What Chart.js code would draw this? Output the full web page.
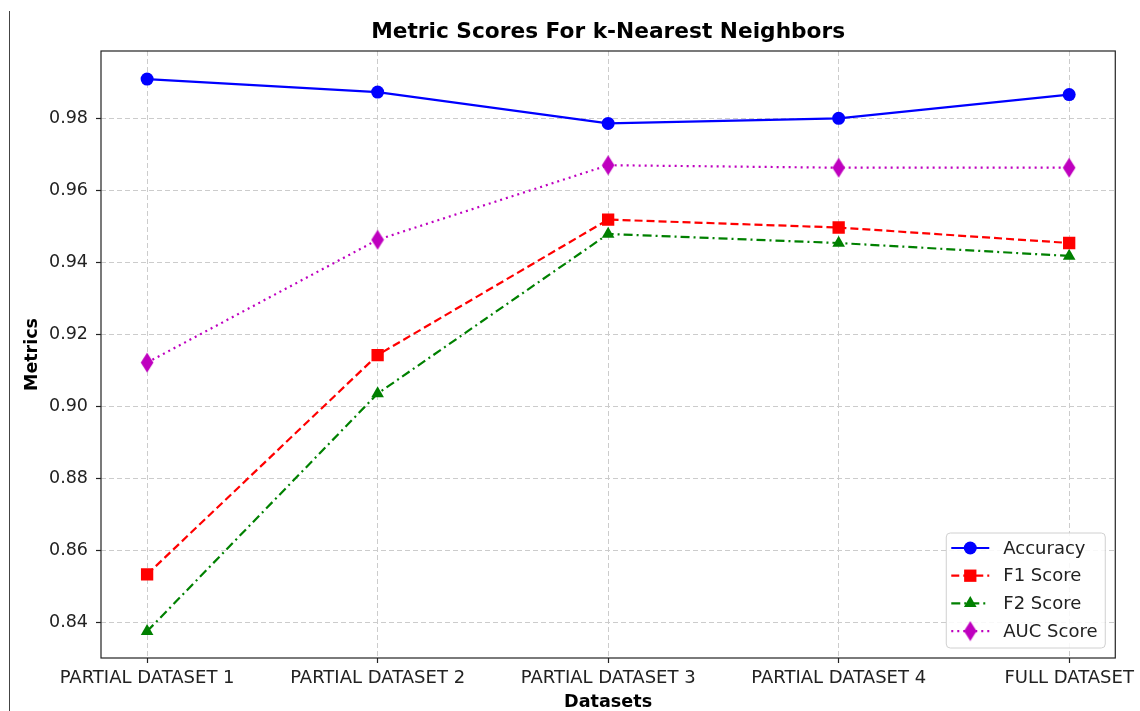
<!DOCTYPE html>
<html>
<head>
<meta charset="utf-8">
<script src="https://cdn.jsdelivr.net/npm/chart.js@4"></script>
<style>
  html, body { margin: 0; padding: 0; background: #fff; }
  #wrap { position: relative; width: 1140px; height: 711px; }
  #edge { position: absolute; left: 9px; top: 11px; width: 0; height: 700px; border-left: 1px solid #444; }
</style>
</head>
<body>
<div id="wrap">
  <canvas id="chart" width="1140" height="711"></canvas>
  <div id="edge"></div>
</div>
<script>
// Data
const categories = ['PARTIAL DATASET 1', 'PARTIAL DATASET 2', 'PARTIAL DATASET 3', 'PARTIAL DATASET 4', 'FULL DATASET'];
const accuracy = [0.9909, 0.9873, 0.9786, 0.9800, 0.9866];
const f1Score = [0.8534, 0.9143, 0.9519, 0.9497, 0.9454];
const f2Score = [0.8376, 0.9036, 0.9479, 0.9454, 0.9418];
const aucScore = [0.9122, 0.9463, 0.9670, 0.9663, 0.9663];
const yTicks = [0.84, 0.86, 0.88, 0.90, 0.92, 0.94, 0.96, 0.98];
const chartTitle = 'Metric Scores For k-Nearest Neighbors';

const FONT = 'DejaVu Sans';

// thin diamond marker (matplotlib 'd')
function thinDiamond(color) {
  const c = document.createElement('canvas');
  c.width = 14; c.height = 21;
  const g = c.getContext('2d');
  g.fillStyle = color;
  g.beginPath();
  g.moveTo(7, 0.5); g.lineTo(13.3, 10.5); g.lineTo(7, 20.5); g.lineTo(0.7, 10.5);
  g.closePath();
  g.fill();
  return c;
}

function toPoints(values) {
  return values.map((v, i) => ({ x: i, y: v }));
}

const series = [
  { label: 'Accuracy', data: accuracy, color: '#0000ff', dash: [], pointStyle: 'circle', radius: 6.5 },
  { label: 'F1 Score', data: f1Score, color: '#ff0000', dash: [8, 4], pointStyle: 'rect', radius: 8.7 },
  { label: 'F2 Score', data: f2Score, color: '#008000', dash: [9, 4, 2, 4], pointStyle: 'triangle', radius: 7.3 },
  { label: 'AUC Score', data: aucScore, color: '#bf00bf', dash: [2, 4], pointStyle: thinDiamond('#bf00bf'), radius: 8 }
];

const datasets = series.map(s => ({
  label: s.label,
  data: toPoints(s.data),
  borderColor: s.color,
  backgroundColor: s.color,
  borderWidth: 2.2,
  borderDash: s.dash,
  pointStyle: s.pointStyle,
  pointRadius: s.radius,
  pointBorderWidth: 0,
  pointHoverRadius: s.radius,
  tension: 0
}));

// frame around the plot area + title centred over it
const framePlugin = {
  id: 'frame',
  afterDatasetsDraw(chart) {
    const a = chart.chartArea;
    const ctx = chart.ctx;
    ctx.save();
    ctx.strokeStyle = '#222';
    ctx.lineWidth = 1.2;
    ctx.strokeRect(a.left, a.top, a.right - a.left, a.bottom - a.top);
    ctx.fillStyle = '#000';
    ctx.font = 'bold 21.7px "' + FONT + '"';
    ctx.textAlign = 'center';
    ctx.textBaseline = 'middle';
    ctx.fillText(chartTitle, (a.left + a.right) / 2, 32);
    ctx.restore();
  }
};

// matplotlib-like legend box in lower right
const legendPlugin = {
  id: 'mplLegend',
  afterDraw(chart) {
    const ctx = chart.ctx;
    const a = chart.chartArea;
    const boxW = 159, boxH = 115;
    const x0 = a.right - 10 - boxW;
    const y0 = a.bottom - 10 - boxH;
    ctx.save();
    ctx.beginPath();
    ctx.roundRect(x0, y0, boxW, boxH, 4);
    ctx.fillStyle = 'rgba(255,255,255,0.85)';
    ctx.fill();
    ctx.strokeStyle = '#d0d0d0';
    ctx.lineWidth = 1;
    ctx.stroke();

    chart.data.datasets.forEach((ds, i) => {
      const y = y0 + 15 + i * 27.7;
      ctx.strokeStyle = ds.borderColor;
      ctx.lineWidth = ds.borderWidth;
      ctx.setLineDash(ds.borderDash);
      ctx.beginPath();
      ctx.moveTo(x0 + 5, y);
      ctx.lineTo(x0 + 43, y);
      ctx.stroke();
      ctx.setLineDash([]);
      ctx.fillStyle = ds.backgroundColor;
      Chart.helpers.drawPoint(ctx, {
        pointStyle: ds.pointStyle,
        radius: ds.pointRadius,
        rotation: 0,
        borderWidth: 0
      }, x0 + 24, y);
      ctx.fillStyle = '#222';
      ctx.font = '18px "' + FONT + '"';
      ctx.textBaseline = 'middle';
      ctx.textAlign = 'left';
      ctx.fillText(ds.label, x0 + 57, y + 1);
    });
    ctx.restore();
  }
};

const gridStyle = {
  color: '#cccccc',
  lineWidth: 1,
  drawTicks: true,
  tickLength: 5,
  tickColor: '#222',
  tickWidth: 1.2,
  tickBorderDash: []
};

new Chart(document.getElementById('chart'), {
  type: 'line',
  data: { datasets },
  plugins: [framePlugin, legendPlugin],
  options: {
    responsive: false,
    animation: false,
    layout: { padding: { left: 10, right: 24, top: 51, bottom: 0 } },
    plugins: {
      legend: { display: false },
      tooltip: { enabled: false },
      title: { display: false }
    },
    scales: {
      x: {
        type: 'linear',
        min: -0.2,
        max: 4.2,
        afterBuildTicks: scale => {
          scale.ticks = categories.map((c, i) => ({ value: i }));
        },
        afterFit: scale => { scale.height = 53; },
        grid: gridStyle,
        border: { display: false, dash: [5, 3] },
        ticks: {
          color: '#222',
          font: { family: FONT, size: 18 },
          padding: 5,
          maxRotation: 0,
          autoSkip: false,
          callback: v => categories[v]
        },
        title: {
          display: true,
          text: 'Datasets',
          color: '#000',
          font: { family: FONT, size: 17.6, weight: 'bold', lineHeight: 1 },
          padding: { top: 0, bottom: 0 }
        }
      },
      y: {
        min: 0.8302,
        max: 0.9987,
        afterBuildTicks: scale => {
          scale.ticks = yTicks.map(v => ({ value: v }));
        },
        afterFit: scale => { scale.width = 91; },
        grid: gridStyle,
        border: { display: false, dash: [5, 3] },
        ticks: {
          color: '#222',
          font: { family: FONT, size: 17.5 },
          padding: 8,
          callback: v => v.toFixed(2)
        },
        title: {
          display: true,
          text: 'Metrics',
          color: '#000',
          font: { family: FONT, size: 17.5, weight: 'bold', lineHeight: 1 },
          padding: { top: 14, bottom: 4 }
        }
      }
    }
  }
});
</script>
</body>
</html>
